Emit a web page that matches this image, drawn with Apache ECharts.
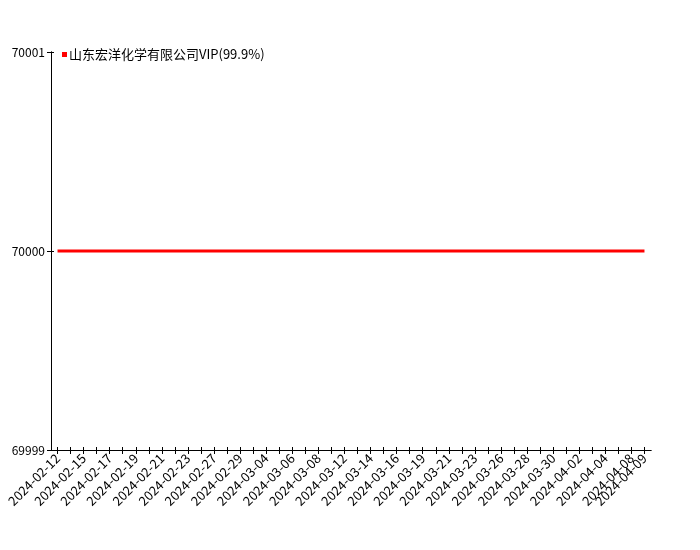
<!DOCTYPE html>
<html>
<head>
<meta charset="utf-8">
<script src="https://cdn.jsdelivr.net/npm/echarts@6/dist/echarts.min.js"></script>
<style>
  html, body { margin: 0; padding: 0; background: #fff; }
  #chart { width: 700px; height: 550px; }
</style>
</head>
<body>
<div id="chart"></div>
<script>
// Fechas (categorías); sólo se etiqueta una de cada dos y la última
const dates = [
  '2024-02-12', '2024-02-14', '2024-02-15', '2024-02-16', '2024-02-17', '2024-02-18',
  '2024-02-19', '2024-02-20', '2024-02-21', '2024-02-22', '2024-02-23', '2024-02-26',
  '2024-02-27', '2024-02-28', '2024-02-29', '2024-03-01', '2024-03-04', '2024-03-05',
  '2024-03-06', '2024-03-07', '2024-03-08', '2024-03-11', '2024-03-12', '2024-03-13',
  '2024-03-14', '2024-03-15', '2024-03-16', '2024-03-18', '2024-03-19', '2024-03-20',
  '2024-03-21', '2024-03-22', '2024-03-23', '2024-03-25', '2024-03-26', '2024-03-27',
  '2024-03-28', '2024-03-29', '2024-03-30', '2024-04-01', '2024-04-02', '2024-04-03',
  '2024-04-04', '2024-04-07', '2024-04-08', '2024-04-09'
];
const seriesName = '山东宏洋化学有限公司VIP(99.9%)';
const prices = dates.map(() => 70000);
const yTicks = [69999, 70000, 70001];

const FONT = '"Noto Sans CJK SC", "DejaVu Sans", sans-serif';
const last = dates.length - 1;

const baseX = {
  type: 'category',
  data: dates,
  position: 'bottom',
  boundaryGap: true,
  axisLine: { lineStyle: { color: '#000', width: 1 } },
  splitLine: { show: false },
};
const xLabel = {
  rotate: 45,
  color: '#000',
  fontFamily: FONT,
  fontSize: 13,
  margin: 6,
  hideOverlap: false,
};
const baseY = {
  type: 'value',
  min: yTicks[0],
  max: yTicks[yTicks.length - 1],
  interval: 1,
  position: 'left',
  axisLine: { show: true, lineStyle: { color: '#000', width: 1 } },
  splitLine: { show: false },
};

const chart = echarts.init(document.getElementById('chart'), null, { renderer: 'canvas' });
chart.setOption({
  backgroundColor: '#fff',
  animation: false,
  grid: { left: 51, right: 49, top: 52, bottom: 100, containLabel: false },
  legend: {
    data: [seriesName],
    left: 57,
    top: 43,
    icon: 'rect',
    itemWidth: 5,
    itemHeight: 5,
    itemGap: 2,
    textStyle: { color: '#000', fontFamily: FONT, fontSize: 13, padding: [0, 0, 0, -3] },
  },
  xAxis: [
    {
      // ticks exteriores + etiquetas pares
      ...baseX,
      axisTick: { show: true, alignWithLabel: true, interval: 0, length: 4, lineStyle: { color: '#000' } },
      axisLabel: { ...xLabel, interval: (i) => i % 2 === 0 && i !== last },
    },
    {
      // ticks interiores + etiqueta de la última fecha (se solapa con la anterior)
      ...baseX,
      axisTick: { show: true, inside: true, alignWithLabel: true, interval: 0, length: 3, lineStyle: { color: '#000' } },
      axisLabel: { ...xLabel, interval: (i) => i === last },
    },
  ],
  yAxis: [
    {
      ...baseY,
      axisTick: { show: true, length: 4, lineStyle: { color: '#000' } },
      axisLabel: { color: '#000', fontFamily: FONT, fontSize: 12, margin: 6, formatter: v => String(v) },
    },
    {
      ...baseY,
      axisTick: { show: true, inside: true, length: 3, lineStyle: { color: '#000' } },
      axisLabel: { show: false },
    },
  ],
  series: [
    {
      name: seriesName,
      type: 'line',
      xAxisIndex: 0,
      yAxisIndex: 0,
      data: prices,
      showSymbol: false,
      symbol: 'rect',
      color: '#ff0000',
      lineStyle: { color: '#ff0000', width: 3 },
    },
  ],
});
</script>
</body>
</html>
